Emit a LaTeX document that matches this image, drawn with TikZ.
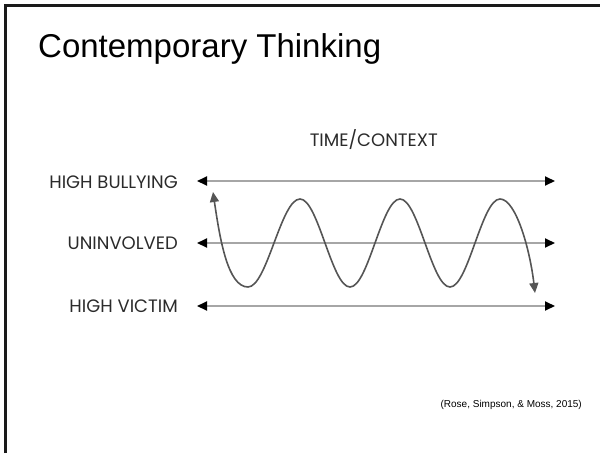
\documentclass[tikz,border=0pt]{standalone}
\usepackage{fontspec}
\setmainfont{Liberation Sans}
\newfontfamily\gothic{Poppins}
\usepackage{tikz}
\usetikzlibrary{arrows.meta}
\definecolor{axisgray}{HTML}{A6A6A6}
\definecolor{wavegray}{HTML}{555555}
\definecolor{framebk}{HTML}{1A1A1A}
\definecolor{labelbk}{HTML}{2B2B2B}

\begin{document}
\begin{tikzpicture}[x=1pt, y=-1pt,
    level/.style={font=\gothic\fontsize{18}{20}\selectfont, text=labelbk, anchor=base east, inner sep=0pt},
    axis/.style={draw=axisgray, line width=2pt,
      {Triangle[length=10pt,width=9pt,color=black]}-{Triangle[length=10pt,width=9pt,color=black]}},
    wave/.style={draw=wavegray, line width=1.6pt,
      {Triangle[length=10pt,width=9pt]}-{Triangle[length=10pt,width=9pt]}}]
  \useasboundingbox (0,0) rectangle (600,453);
  % slide frame (only top and left edges show)
  \draw[framebk, line width=3pt] (5,453) -- (5,5.5) -- (600,5.5);

  \node[anchor=base west, inner sep=0pt, font=\fontsize{33}{36}\selectfont] (title) at (38,57) {Contemporary Thinking};

  \node[level] (time) at (438,146) {TIME/CONTEXT};
  \node[level] (bully) at (178,188) {HIGH BULLYING};
  \node[level] (uninv) at (178,249) {UNINVOLVED};
  \node[level] (victim) at (178,312) {HIGH VICTIM};

  % axis ends
  \coordinate (bullyL) at (197,181);
  \coordinate (bullyR) at (555,181);
  \coordinate (uninvL) at (197,243);
  \coordinate (uninvR) at (555,243);
  \coordinate (victimL) at (197,306);
  \coordinate (victimR) at (555,306);
  \draw[axis] (bullyL) -- (bullyR);
  \draw[axis] (uninvL) -- (uninvR);
  \draw[axis] (victimL) -- (victimR);

  % the wave
  \coordinate (waveA) at (213,192);
  \coordinate (waveB) at (535,293);
  \draw[wave] (waveA) .. controls (220,240) and (228,287) .. (248,287)
    cos (274,243) sin (300,199) cos (325,243) sin (350,287)
    cos (375,243) sin (400,199) cos (425,243) sin (450,287)
    cos (475,243) sin (500,199)
    .. controls (516,199) and (530,250) .. (waveB);

  \node[anchor=base east, inner sep=0pt, font=\fontsize{10}{12}\selectfont] (cite) at (582,407) {(Rose, Simpson, \& Moss, 2015)};
\end{tikzpicture}
\end{document}
